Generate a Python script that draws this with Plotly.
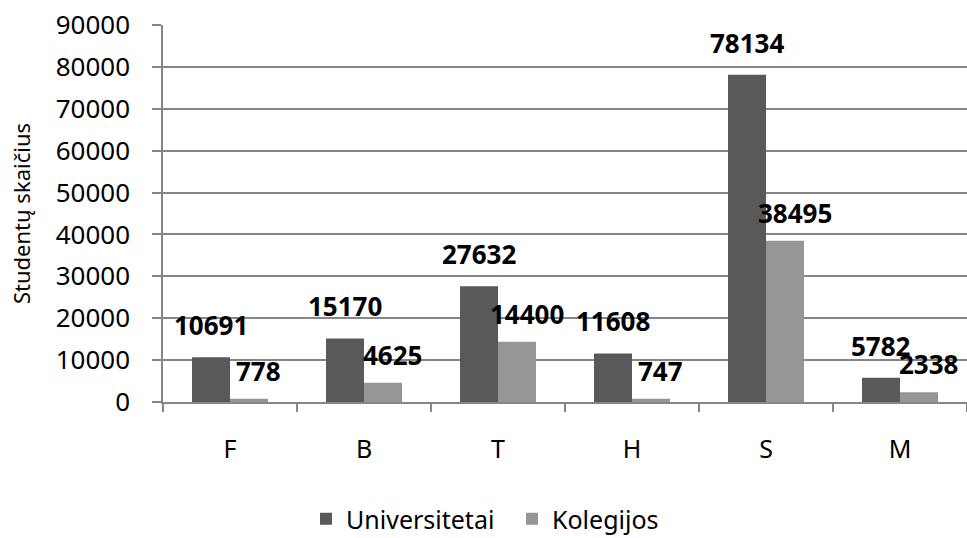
import plotly.graph_objects as go

categories = ["F", "B", "T", "H", "S", "M"]
universitetai = [10691, 15170, 27632, 11608, 78134, 5782]
kolegijos = [778, 4625, 14400, 747, 38495, 2338]
series_names = ["Universitetai", "Kolegijos"]
y_ticks = [0, 10000, 20000, 30000, 40000, 50000, 60000, 70000, 80000, 90000]
y_title = "Studentų skaičius"

FONT = "Noto Sans"
DARK = "#595959"
LIGHT = "#969696"
AXIS = "#868686"

fig = go.Figure()
fig.add_bar(x=categories, y=universitetai, name=series_names[0], marker_color=DARK,
            marker_line_width=0)
fig.add_bar(x=categories, y=kolegijos, name=series_names[1], marker_color=LIGHT,
            marker_line_width=0)

BARGAP = 0.433
W, H = 967, 538
ML, MR, MT, MB = 163, 0, 25, 136
cat_px = (W - ML - MR) / len(categories)
bar_px = cat_px * (1 - BARGAP) / 2

label_style = [(universitetai, -bar_px / 2, 32), (kolegijos, bar_px / 2 + 10, 28)]
for vals, sh, ysh in label_style:
    for c, v in zip(categories, vals):
        fig.add_annotation(x=c, y=v, text=f"<b>{v}</b>", showarrow=False,
                           xshift=sh, yshift=ysh, yanchor="middle",
                           font=dict(family=FONT, size=26, color="#000000"))

fig.update_layout(
    width=W, height=H,
    margin=dict(l=ML, r=MR, t=MT, b=MB),
    paper_bgcolor="white", plot_bgcolor="white",
    barmode="group", bargap=BARGAP, bargroupgap=0,
    font=dict(family=FONT, size=25, color="#000000"),
    showlegend=True,
    legend=dict(orientation="h", xref="container", x=306 / W, xanchor="left",
                yref="container", y=(H - 519) / H, yanchor="middle",
                font=dict(family=FONT, size=25), itemwidth=30,
                entrywidth=161, entrywidthmode="pixels"),
)
fig.update_xaxes(
    type="category", showgrid=False, showline=True, linecolor=AXIS, linewidth=1.5,
    ticks="outside", tickson="boundaries", ticklen=8, tickcolor=AXIS, tickwidth=1.5,
    ticklabelstandoff=24, tickfont=dict(family=FONT, size=25), automargin=False,
)
fig.update_yaxes(
    range=[0, 90000], tickvals=y_ticks, tickformat="d",
    showgrid=True, gridcolor=AXIS, gridwidth=1.5,
    showline=True, linecolor=AXIS, linewidth=1.5,
    ticks="outside", ticklen=9, tickcolor=AXIS, tickwidth=1.5,
    ticklabelstandoff=17, tickfont=dict(family=FONT, size=26),
    zeroline=False, automargin=False,
    title=dict(text=y_title, font=dict(family=FONT, size=22), standoff=19),
)

fig.write_html("out.html", config={"displayModeBar": False},
               post_script="document.body.style.margin='0';"
                           "document.documentElement.style.overflow='hidden';")
